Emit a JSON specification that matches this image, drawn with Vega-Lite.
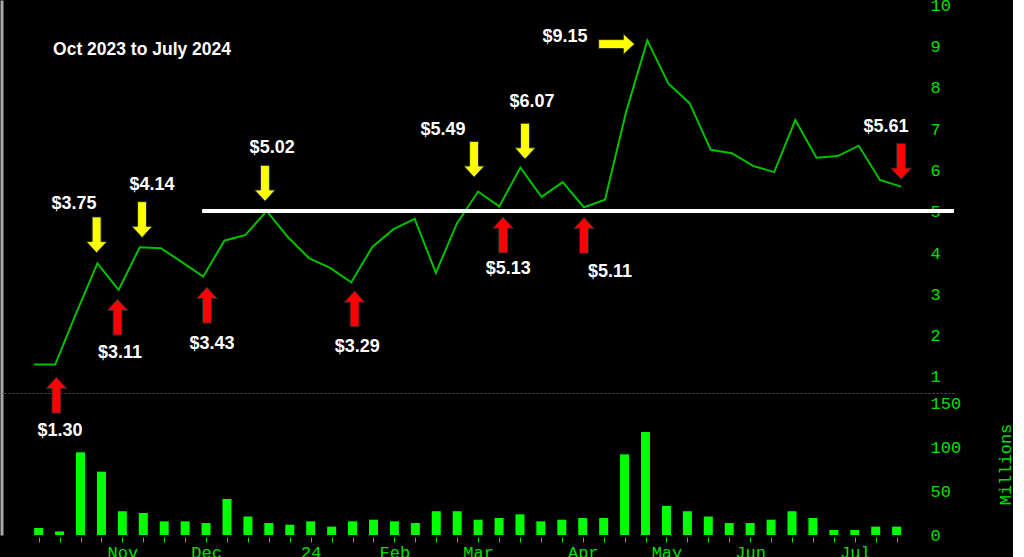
{
  "$schema": "https://vega.github.io/schema/vega-lite/v6.json",
  "background": "#000000",
  "padding": {"top": -4, "left": 0, "right": 0, "bottom": 0},
  "spacing": 0,
  "bounds": "flush",
  "config": {
    "view": {"stroke": null},
    "axis": {"grid": false, "labelFont": "Liberation Mono", "labelFontSize": 17, "labelColor": "#00e000", "titleFont": "Liberation Mono", "titleColor": "#00e000"}
  },
  "datasets": {
    "weekly": [
      {"week": 1, "date": "2023-10-02", "close": 1.30, "volume": 8},
      {"week": 2, "date": "2023-10-09", "close": 1.30, "volume": 4},
      {"week": 3, "date": "2023-10-16", "close": 2.55, "volume": 94},
      {"week": 4, "date": "2023-10-23", "close": 3.75, "volume": 72},
      {"week": 5, "date": "2023-10-30", "close": 3.11, "volume": 27},
      {"week": 6, "date": "2023-11-06", "close": 4.14, "volume": 25},
      {"week": 7, "date": "2023-11-13", "close": 4.12, "volume": 15.5},
      {"week": 8, "date": "2023-11-20", "close": 3.78, "volume": 15.5},
      {"week": 9, "date": "2023-11-27", "close": 3.43, "volume": 13.6},
      {"week": 10, "date": "2023-12-04", "close": 4.30, "volume": 41},
      {"week": 11, "date": "2023-12-11", "close": 4.44, "volume": 21},
      {"week": 12, "date": "2023-12-18", "close": 5.02, "volume": 13.6},
      {"week": 13, "date": "2023-12-25", "close": 4.39, "volume": 11.7},
      {"week": 14, "date": "2024-01-01", "close": 3.88, "volume": 15.5},
      {"week": 15, "date": "2024-01-08", "close": 3.64, "volume": 9.5},
      {"week": 16, "date": "2024-01-15", "close": 3.29, "volume": 15.5},
      {"week": 17, "date": "2024-01-22", "close": 4.15, "volume": 17.4},
      {"week": 18, "date": "2024-01-29", "close": 4.58, "volume": 15.5},
      {"week": 19, "date": "2024-02-05", "close": 4.83, "volume": 13.6},
      {"week": 20, "date": "2024-02-12", "close": 3.52, "volume": 27},
      {"week": 21, "date": "2024-02-19", "close": 4.72, "volume": 27},
      {"week": 22, "date": "2024-02-26", "close": 5.49, "volume": 17.4},
      {"week": 23, "date": "2024-03-04", "close": 5.13, "volume": 19.3},
      {"week": 24, "date": "2024-03-11", "close": 6.07, "volume": 23.5},
      {"week": 25, "date": "2024-03-18", "close": 5.36, "volume": 15.5},
      {"week": 26, "date": "2024-03-25", "close": 5.72, "volume": 17.4},
      {"week": 27, "date": "2024-04-01", "close": 5.11, "volume": 19.3},
      {"week": 28, "date": "2024-04-08", "close": 5.29, "volume": 19.3},
      {"week": 29, "date": "2024-04-15", "close": 7.42, "volume": 91.7},
      {"week": 30, "date": "2024-04-22", "close": 9.15, "volume": 117},
      {"week": 31, "date": "2024-04-29", "close": 8.10, "volume": 33},
      {"week": 32, "date": "2024-05-06", "close": 7.63, "volume": 27},
      {"week": 33, "date": "2024-05-13", "close": 6.50, "volume": 21},
      {"week": 34, "date": "2024-05-20", "close": 6.42, "volume": 13.6},
      {"week": 35, "date": "2024-05-27", "close": 6.11, "volume": 13.6},
      {"week": 36, "date": "2024-06-03", "close": 5.96, "volume": 17.4},
      {"week": 37, "date": "2024-06-10", "close": 7.22, "volume": 27},
      {"week": 38, "date": "2024-06-17", "close": 6.31, "volume": 19.3},
      {"week": 39, "date": "2024-06-24", "close": 6.35, "volume": 5.7},
      {"week": 40, "date": "2024-07-01", "close": 6.60, "volume": 5.7},
      {"week": 41, "date": "2024-07-08", "close": 5.77, "volume": 9.5},
      {"week": 42, "date": "2024-07-15", "close": 5.61, "volume": 9.5}
    ],
    "notes": [
      {"label": "$1.30", "kind": "low", "dir": "up", "aw": 2.06, "ap": 0.56, "lw": 2.23, "lp": -0.31},
      {"label": "$3.75", "kind": "high", "dir": "down", "aw": 3.96, "ap": 4.44, "lw": 2.89, "lp": 5.19},
      {"label": "$3.11", "kind": "low", "dir": "up", "aw": 4.95, "ap": 2.45, "lw": 5.07, "lp": 1.58},
      {"label": "$4.14", "kind": "high", "dir": "down", "aw": 6.11, "ap": 4.81, "lw": 6.58, "lp": 5.65},
      {"label": "$3.43", "kind": "low", "dir": "up", "aw": 9.18, "ap": 2.74, "lw": 9.42, "lp": 1.80},
      {"label": "$5.02", "kind": "high", "dir": "down", "aw": 11.92, "ap": 5.69, "lw": 12.26, "lp": 6.55},
      {"label": "$3.29", "kind": "low", "dir": "up", "aw": 16.16, "ap": 2.65, "lw": 16.28, "lp": 1.73},
      {"label": "$5.49", "kind": "high", "dir": "down", "aw": 21.81, "ap": 6.27, "lw": 20.34, "lp": 6.98},
      {"label": "$5.13", "kind": "low", "dir": "up", "aw": 23.18, "ap": 4.44, "lw": 23.42, "lp": 3.62},
      {"label": "$6.07", "kind": "high", "dir": "down", "aw": 24.22, "ap": 6.71, "lw": 24.55, "lp": 7.66},
      {"label": "$5.11", "kind": "low", "dir": "up", "aw": 27.01, "ap": 4.43, "lw": 28.24, "lp": 3.54},
      {"label": "$9.15", "kind": "high", "dir": "right", "aw": 28.55, "ap": 9.06, "lw": 26.11, "lp": 9.23},
      {"label": "$5.61", "kind": "low", "dir": "down", "aw": 42.0, "ap": 6.22, "lw": 41.29, "lp": 7.05}
    ],
    "level": [
      {"from": 8.95, "to": 44.5, "price": 5.02}
    ],
    "caption": [
      {"text": "Oct 2023 to July 2024", "w": 1.9, "p": 8.92}
    ]
  },
  "vconcat": [
    {
      "width": 955,
      "height": 393,
      "resolve": {"axis": {"y": "independent"}},
      "layer": [
        {
          "data": {"name": "weekly"},
          "mark": {"type": "line", "color": "#00c000", "strokeWidth": 2},
          "encoding": {
            "x": {"field": "week", "type": "quantitative", "scale": {"domain": [-0.608, 44.55], "nice": false, "zero": false},
              "axis": {"orient": "bottom", "labels": false, "ticks": false, "tickSize": 0, "domain": true, "domainColor": "#5a5a5a", "domainDash": [2, 2], "domainWidth": 1, "title": null}},
            "y": {"field": "close", "type": "quantitative", "scale": {"domain": [0.6126, 10.128], "nice": false, "zero": false},
              "axis": {"orient": "right", "values": [1, 2, 3, 4, 5, 6, 7, 8, 9, 10], "ticks": false, "tickSize": 0, "domain": false, "labelPadding": 0, "offset": -25, "labelAlign": "left", "labelBaseline": "middle", "labelBound": false, "labelFlush": false, "title": null}}
          }
        },
        {
          "data": {"name": "level"},
          "mark": {"type": "rule", "color": "#ffffff", "strokeWidth": 4},
          "encoding": {
            "x": {"field": "from", "type": "quantitative", "scale": {"domain": [-0.608, 44.55], "nice": false, "zero": false}},
            "x2": {"field": "to"},
            "y": {"field": "price", "type": "quantitative", "scale": {"domain": [0.6126, 10.128], "nice": false, "zero": false},
              "axis": {"orient": "left", "labels": false, "ticks": false, "tickSize": 0, "domain": true, "domainColor": "#a8a8a8", "domainWidth": 3, "offset": -1.5, "title": null}}
          }
        },
        {
          "data": {"name": "notes"},
          "mark": {"type": "point", "filled": true, "opacity": 1, "stroke": "#1b2838", "strokeWidth": 1, "size": 1296},
          "encoding": {
            "x": {"field": "aw", "type": "quantitative", "scale": {"domain": [-0.608, 44.55], "nice": false, "zero": false}},
            "y": {"field": "ap", "type": "quantitative", "scale": {"domain": [0.6126, 10.128], "nice": false, "zero": false}, "axis": null},
            "shape": {"field": "dir", "type": "nominal", "legend": null,
              "scale": {"domain": ["down", "up", "right"], "range": [
                "M-0.25,-1L0.25,-1L0.25,0.37L0.575,0.37L0,1L-0.575,0.37L-0.25,0.37Z",
                "M-0.25,1L0.25,1L0.25,-0.37L0.575,-0.37L0,-1L-0.575,-0.37L-0.25,-0.37Z",
                "M-1,-0.25L-1,0.25L0.37,0.25L0.37,0.575L1,0L0.37,-0.575L0.37,-0.25Z"
              ]}},
            "color": {"field": "kind", "type": "nominal", "legend": null, "scale": {"domain": ["high", "low"], "range": ["#ffff00", "#ff0000"]}}
          }
        },
        {
          "data": {"name": "notes"},
          "mark": {"type": "text", "font": "Liberation Sans", "fontWeight": "bold", "fontSize": 18, "color": "#ffffff", "align": "center", "baseline": "middle"},
          "encoding": {
            "x": {"field": "lw", "type": "quantitative", "scale": {"domain": [-0.608, 44.55], "nice": false, "zero": false}},
            "y": {"field": "lp", "type": "quantitative", "scale": {"domain": [0.6126, 10.128], "nice": false, "zero": false}, "axis": null},
            "text": {"field": "label"}
          }
        },
        {
          "data": {"name": "caption"},
          "mark": {"type": "text", "font": "Liberation Sans", "fontWeight": "bold", "fontSize": 17.5, "color": "#ffffff", "align": "left", "baseline": "middle"},
          "encoding": {
            "x": {"field": "w", "type": "quantitative", "scale": {"domain": [-0.608, 44.55], "nice": false, "zero": false}},
            "y": {"field": "p", "type": "quantitative", "scale": {"domain": [0.6126, 10.128], "nice": false, "zero": false}, "axis": null},
            "text": {"field": "text"}
          }
        }
      ]
    },
    {
      "width": 955,
      "height": 142,
      "data": {"name": "weekly"},
      "resolve": {"axis": {"y": "independent", "x": "independent"}},
      "layer": [
        {
          "mark": {"type": "bar", "color": "#00ff00", "size": 9},
          "encoding": {
            "x": {"field": "week", "type": "quantitative", "scale": {"domain": [-0.608, 44.55], "nice": false, "zero": false},
              "axis": {"orient": "bottom", "values": [1, 2, 3, 4, 5, 6, 7, 8, 9, 10, 11, 12, 13, 14, 15, 16, 17, 18, 19, 20, 21, 22, 23, 24, 25, 26, 27, 28, 29, 30, 31, 32, 33, 34, 35, 36, 37, 38, 39, 40, 41, 42],
                "labelExpr": "datum.value == 5 ? 'Nov' : datum.value == 9 ? 'Dec' : datum.value == 14 ? '24' : datum.value == 18 ? 'Feb' : datum.value == 22 ? 'Mar' : datum.value == 27 ? 'Apr' : datum.value == 31 ? 'May' : datum.value == 35 ? 'Jun' : datum.value == 40 ? 'Jul' : ''",
                "labelOverlap": false, "labelBound": false, "labelFlush": false, "ticks": true, "tickSize": 5, "tickColor": "#00e000", "tickWidth": 1, "domain": false, "offset": 2, "labelPadding": 2, "labelAlign": "center", "labelBaseline": "top", "title": null}},
            "y": {"field": "volume", "type": "quantitative", "scale": {"domain": [0, 161.4], "nice": false, "zero": true},
              "axis": {"orient": "right", "values": [0, 50, 100, 150], "ticks": false, "tickSize": 0, "domain": false, "offset": -25, "labelPadding": 0, "labelAlign": "left", "labelBaseline": "middle", "labelBound": false, "labelFlush": false,
                "title": "Millions", "titleAngle": 270, "titleX": 75, "titleY": 71, "titleAlign": "center", "titleBaseline": "middle", "titleFontSize": 17, "titleFontWeight": "normal"}}
          }
        },
        {
          "mark": {"type": "bar", "opacity": 0, "size": 9},
          "encoding": {
            "x": {"field": "week", "type": "quantitative", "scale": {"domain": [-0.608, 44.55], "nice": false, "zero": false}, "axis": null},
            "y": {"field": "volume", "type": "quantitative", "scale": {"domain": [0, 161.4], "nice": false, "zero": true},
              "axis": {"orient": "left", "labels": false, "ticks": false, "tickSize": 0, "domain": true, "domainColor": "#a8a8a8", "domainWidth": 3, "offset": -1.5, "title": null}}
          }
        }
      ]
    }
  ]
}
